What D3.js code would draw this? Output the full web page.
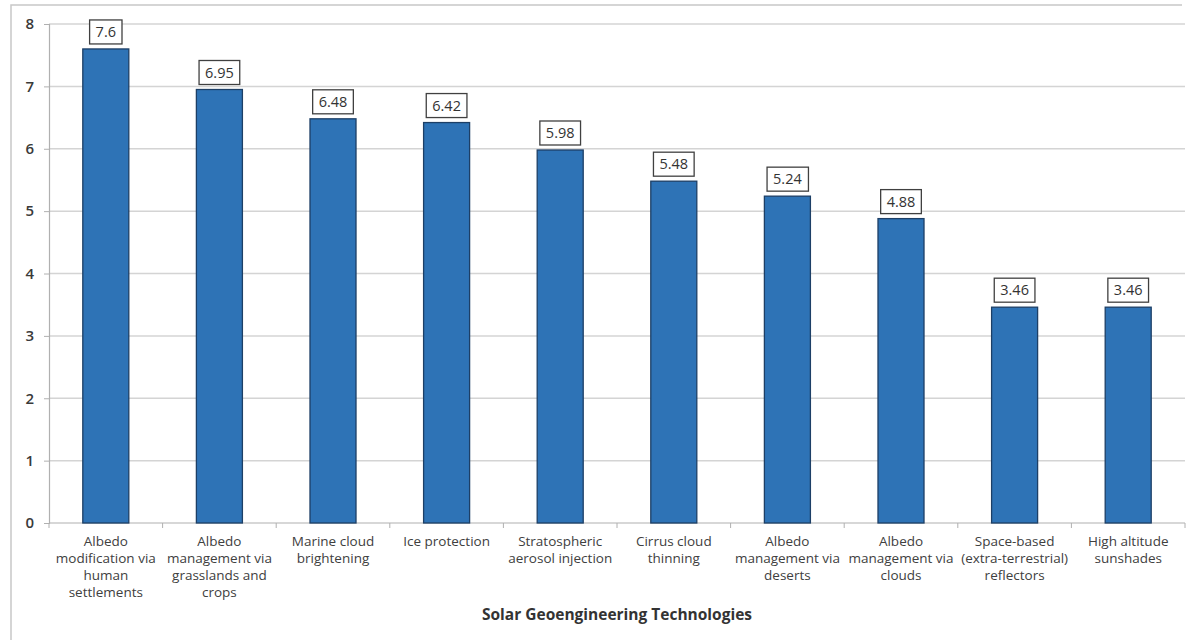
<!DOCTYPE html>
<html>
<head>
<meta charset="utf-8">
<script src="https://cdn.jsdelivr.net/npm/d3@7"></script>
<style>
  html, body { margin: 0; padding: 0; background: #fff; }
  svg { display: block; font-family: "Open Sans", Lato, sans-serif; }
</style>
</head>
<body>
<svg id="chart" width="1187" height="640"></svg>
<script>
// Solar geoengineering technologies and their scores
const technologies = [
  ["Albedo", "modification via", "human", "settlements"],
  ["Albedo", "management via", "grasslands and", "crops"],
  ["Marine cloud", "brightening"],
  ["Ice protection"],
  ["Stratospheric", "aerosol injection"],
  ["Cirrus cloud", "thinning"],
  ["Albedo", "management via", "deserts"],
  ["Albedo", "management via", "clouds"],
  ["Space-based", "(extra-terrestrial)", "reflectors"],
  ["High altitude", "sunshades"]
];
const scores = [7.6, 6.95, 6.48, 6.42, 5.98, 5.48, 5.24, 4.88, 3.46, 3.46];
const scoreLabels = ["7.6", "6.95", "6.48", "6.42", "5.98", "5.48", "5.24", "4.88", "3.46", "3.46"];
const yTicks = [0, 1, 2, 3, 4, 5, 6, 7, 8];
const axisTitle = "Solar Geoengineering Technologies";

const svg = d3.select("#chart");
const plot = { left: 49, right: 1185, top: 24, bottom: 523 };

// outer chart frame (top and left edges)
svg.append("path")
  .attr("d", "M11,640V5H1182")
  .attr("fill", "none")
  .attr("stroke", "#c8c8c8")
  .attr("stroke-width", 1.5);

const ids = d3.range(scores.length);
const x = d3.scaleBand().domain(ids).range([plot.left, plot.right])
  .paddingInner(0.595).paddingOuter(0.2975);
const y = d3.scaleLinear().domain([0, 8]).range([plot.bottom, plot.top]);

// horizontal gridlines
svg.append("g")
  .selectAll("line")
  .data(yTicks.filter(d => d > 0))
  .join("line")
  .attr("x1", plot.left).attr("x2", plot.right)
  .attr("y1", d => y(d)).attr("y2", d => y(d))
  .attr("stroke", "#d4d4d4")
  .attr("stroke-width", 1.5);

// y axis
const yAxis = svg.append("g")
  .attr("transform", `translate(${plot.left},0)`)
  .call(d3.axisLeft(y).tickValues(yTicks).tickSize(5).tickPadding(10).tickFormat(d3.format("d")));
yAxis.select(".domain").attr("stroke", "#b0b0b0").attr("stroke-width", 1.2);
yAxis.selectAll(".tick line").attr("stroke", "#b0b0b0");
yAxis.selectAll(".tick text")
  .attr("fill", "#3a3a3a")
  .style("font-size", "15px")
  .style("font-weight", "600")
  .style("font-family", "'Open Sans', Lato, sans-serif");

// x axis with boundary ticks between categories
const xAxis = svg.append("g")
  .attr("transform", `translate(0,${plot.bottom})`);
xAxis.append("line")
  .attr("x1", plot.left).attr("x2", plot.right)
  .attr("stroke", "#b0b0b0").attr("stroke-width", 1.2);
xAxis.selectAll("line.tk")
  .data(d3.range(scores.length + 1))
  .join("line")
  .attr("class", "tk")
  .attr("x1", i => plot.left + i * x.step()).attr("x2", i => plot.left + i * x.step())
  .attr("y1", 0).attr("y2", 5)
  .attr("stroke", "#b0b0b0");

// bars
svg.append("g")
  .selectAll("rect")
  .data(ids)
  .join("rect")
  .attr("x", i => x(i))
  .attr("width", x.bandwidth())
  .attr("y", i => y(scores[i]))
  .attr("height", i => y(0) - y(scores[i]))
  .attr("fill", "#2e73b6")
  .attr("stroke", "#1d3f66")
  .attr("stroke-width", 1.3);

// boxed value labels above each bar
const labels = svg.append("g")
  .selectAll("g")
  .data(ids)
  .join("g")
  .attr("transform", i => `translate(${x(i) + x.bandwidth() / 2},${y(scores[i]) - 17})`);
labels.append("text")
  .attr("text-anchor", "middle")
  .attr("dy", "0.36em")
  .attr("fill", "#333")
  .style("font-size", "14.5px")
  .text(i => scoreLabels[i]);
labels.each(function() {
  const g = d3.select(this);
  const bb = g.select("text").node().getBBox();
  g.insert("rect", "text")
    .attr("x", bb.x - 6)
    .attr("y", -12)
    .attr("width", bb.width + 12)
    .attr("height", 24)
    .attr("fill", "#fff")
    .attr("stroke", "#404040")
    .attr("stroke-width", 1.3);
});

// category labels, wrapped over several lines
svg.append("g")
  .selectAll("text")
  .data(ids)
  .join("text")
  .attr("text-anchor", "middle")
  .attr("fill", "#404040")
  .style("font-size", "13.5px")
  .attr("transform", i => `translate(${x(i) + x.bandwidth() / 2},${plot.bottom + 23})`)
  .each(function(i) {
    d3.select(this).selectAll("tspan")
      .data(technologies[i])
      .join("tspan")
      .attr("x", 0)
      .attr("y", (d, k) => k * 17)
      .text(d => d);
  });

// axis title
svg.append("text")
  .attr("x", (plot.left + plot.right) / 2)
  .attr("y", 620)
  .attr("text-anchor", "middle")
  .attr("fill", "#333")
  .style("font-size", "15.5px")
  .style("font-weight", "bold")
  .text(axisTitle);
</script>
</body>
</html>
